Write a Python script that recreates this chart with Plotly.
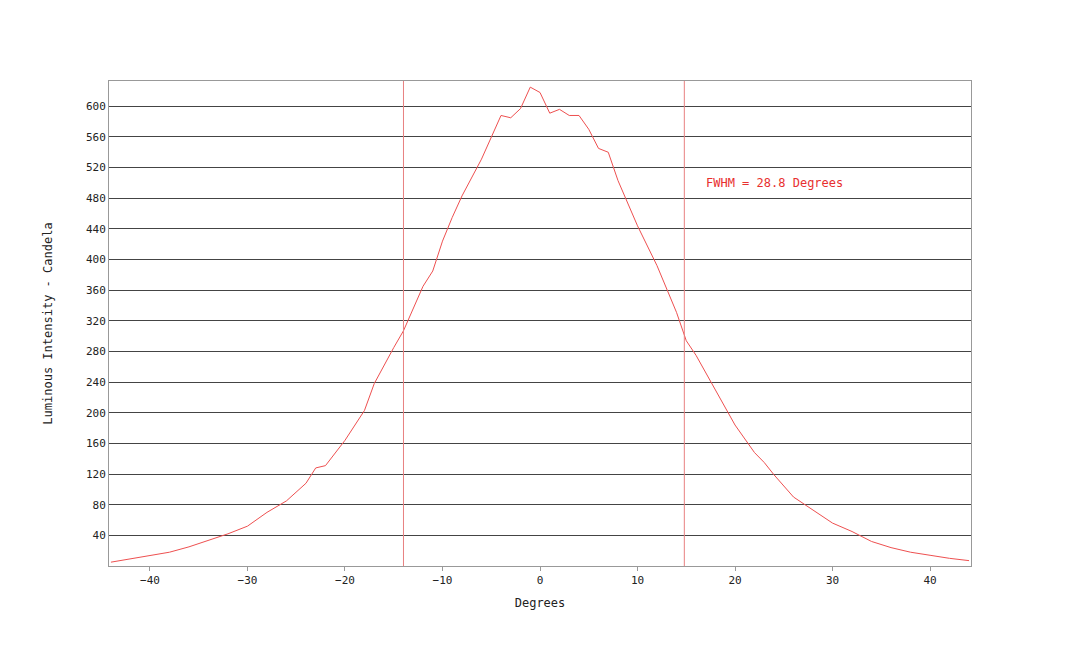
import plotly.graph_objects as go

degrees = [-44, -42, -40, -38, -36, -34, -32, -30, -28, -26, -24, -23, -22, -20, -18, -17, -16, -15, -14,
           -12, -11, -10, -9, -8, -6, -5, -4, -3, -2, -1, 0, 1, 2, 3, 4, 5, 6, 7, 8, 10, 12, 14, 15,
           16, 18, 20, 22, 23, 24, 26, 28, 30, 32, 34, 36, 38, 40, 42, 44]
intensity = [5, 9, 13, 18, 25, 33, 42, 52, 70, 85, 108, 128, 131, 164, 203, 238, 262, 285, 307,
             365, 385, 424, 455, 483, 531, 560, 588, 585, 597, 625, 618, 591, 596, 588, 588, 570, 545, 540, 503,
             444, 392, 331, 294, 275, 229, 184, 148, 135, 119, 90, 73, 56, 45, 32, 24, 18, 14, 10, 7]

fwhm_left = -14.0
fwhm_right = 14.8
fwhm_text = "FWHM = 28.8 Degrees"

ticks_y = list(range(40, 601, 40))
ticks_x = list(range(-40, 41, 10))

font = "DejaVu Sans Mono"
red = "#e8302f"

fig = go.Figure()
fig.add_trace(go.Scatter(x=degrees, y=intensity, mode="lines",
                         line=dict(color="#ee5050", width=1), hoverinfo="x+y"))

for xv in (fwhm_left, fwhm_right):
    fig.add_vline(x=xv, line=dict(color="#e88080", width=1))

fig.add_annotation(x=16.8, y=500, text=fwhm_text, showarrow=False, xanchor="left",
                   font=dict(family=font, size=12, color=red))

fig.update_layout(
    width=1080, height=646,
    margin=dict(l=101, r=117, t=73, b=88),
    paper_bgcolor="white", plot_bgcolor="white",
    showlegend=False,
    font=dict(family=font, size=11, color="#222"),
    xaxis=dict(range=[-44.2, 44.2], tickvals=ticks_x, showgrid=False, zeroline=False,
               showline=True, linecolor="#999", mirror=True, ticks="outside", ticklen=4,
               tickcolor="#999", title=dict(text="Degrees", font=dict(size=12), standoff=12)),
    yaxis=dict(range=[0, 633], tickvals=ticks_y, showgrid=True, gridcolor="#444", gridwidth=1,
               zeroline=False, showline=True, linecolor="#999", mirror=True,
               title=dict(text="Luminous Intensity - Candela", font=dict(size=12), standoff=30)),
)

fig.write_html("out.html")
